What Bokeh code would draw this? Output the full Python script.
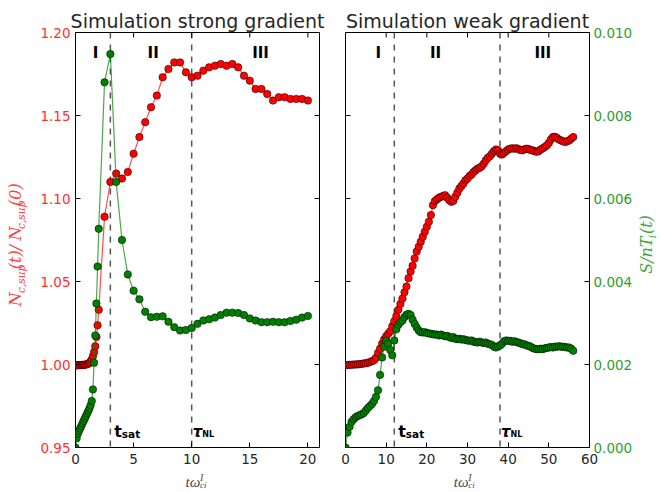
import math
from bokeh.plotting import figure
from bokeh.models import Range1d, LinearAxis, FixedTicker, Span, Label, PrintfTickFormatter
from bokeh.layouts import row, column
from bokeh.embed import file_html
from bokeh.resources import INLINE

# ---------------- data ----------------
t_strong = [0.0, 0.1, 0.2, 0.3, 0.4, 0.5, 0.6, 0.7, 0.8, 0.9,
            1.0, 1.1, 1.2, 1.3, 1.4, 1.5, 1.6, 1.7, 1.8, 1.9, 2.0,
            2.5, 3.0, 3.5, 4.0, 4.5, 5.0, 5.5, 6.0, 6.5, 7.0,
            7.5, 8.0, 8.5, 9.0, 9.5, 10.0, 10.5, 11.0, 11.5, 12.0,
            12.5, 13.0, 13.5, 14.0, 14.5, 15.0, 15.5, 16.0, 16.5, 17.0,
            17.5, 18.0, 18.5, 19.0, 19.5, 20.0]
n_strong = [0.9995, 0.9996, 0.9995, 0.9997, 0.9996, 0.9997, 0.9998, 0.9997, 0.9999, 1.0000,
            1.0002, 1.0005, 1.0010, 1.0018, 1.0030, 1.0050, 1.0075, 1.0110, 1.0166, 1.0236, 1.0330,
            1.089, 1.110, 1.115, 1.112, 1.116, 1.127, 1.137, 1.146, 1.155, 1.162,
            1.173, 1.178, 1.182, 1.182, 1.176, 1.173, 1.174, 1.177, 1.179, 1.180,
            1.181, 1.180, 1.181, 1.179, 1.174, 1.171, 1.166, 1.166, 1.163, 1.159,
            1.161, 1.161, 1.160, 1.160, 1.160, 1.159]
s_strong = [0.00000, 0.00022, 0.00033, 0.00040, 0.00046, 0.00052, 0.00058, 0.00064, 0.00070, 0.00076,
            0.00082, 0.00088, 0.00094, 0.00102, 0.00112, 0.00140, 0.00204, 0.00270, 0.00347, 0.00436, 0.00527,
            0.00880, 0.00948, 0.00640, 0.00500, 0.00417, 0.00378, 0.00357, 0.00327, 0.00314, 0.00315,
            0.00316, 0.00303, 0.00290, 0.00282, 0.00283, 0.00288, 0.00298, 0.00306, 0.00309, 0.00313,
            0.00319, 0.00325, 0.00325, 0.00324, 0.00319, 0.00311, 0.00306, 0.00302, 0.00302, 0.00303,
            0.00302, 0.00302, 0.00305, 0.00308, 0.00313, 0.00317]

t_weak = [0.0, 0.5, 1.0, 1.5, 2.0, 2.5, 3.0, 3.5, 4.0, 4.5,
          5.0, 5.5, 6.0, 6.5, 7.0, 7.5, 8.0, 8.5, 9.0, 9.5,
          10.0, 10.5, 11.0, 11.5, 12.0, 12.5, 13.0, 13.5, 14.0, 14.5,
          15.0, 15.5, 16.0, 16.5, 17.0, 17.5, 18.0, 18.5, 19.0, 19.5,
          20.0, 20.5, 21.0, 21.5, 22.0, 22.5, 23.0, 23.5, 24.0, 24.5,
          25.0, 25.5, 26.0, 26.5, 27.0, 27.5, 28.0, 28.5, 29.0, 29.5,
          30.0, 30.5, 31.0, 31.5, 32.0, 32.5, 33.0, 33.5, 34.0, 34.5,
          35.0, 35.5, 36.0, 36.5, 37.0, 37.5, 38.0, 38.5, 39.0, 39.5,
          40.0, 40.5, 41.0, 41.5, 42.0, 42.5, 43.0, 43.5, 44.0, 44.5,
          45.0, 45.5, 46.0, 46.5, 47.0, 47.5, 48.0, 48.5, 49.0, 49.5,
          50.0, 50.5, 51.0, 51.5, 52.0, 52.5, 53.0, 53.5, 54.0, 54.5,
          55.0, 55.5, 56.0]
n_weak = [0.9996, 0.9997, 0.9998, 0.9998, 1.0000, 1.0000, 1.0001, 1.0002, 1.0004, 1.0006,
          1.0008, 1.0010, 1.0015, 1.0020, 1.0026, 1.0040, 1.0070, 1.0095, 1.0125, 1.0150,
          1.0170, 1.0185, 1.0200, 1.0230, 1.0260, 1.0290, 1.0330, 1.0365, 1.0397, 1.0435,
          1.0470, 1.0520, 1.0560, 1.0595, 1.0639, 1.0680, 1.0710, 1.0740, 1.0770, 1.0800,
          1.0830, 1.0860, 1.0900, 1.0960, 1.0985, 1.0995, 1.1005, 1.1010, 1.1015, 1.1020,
          1.1005, 1.0990, 1.0980, 1.0985, 1.1010, 1.1035, 1.1060, 1.1075, 1.1090, 1.1110,
          1.1120, 1.1135, 1.1145, 1.1160, 1.1170, 1.1180, 1.1185, 1.1195, 1.1210, 1.1230,
          1.1245, 1.1255, 1.1270, 1.1285, 1.1295, 1.1290, 1.1270, 1.1265, 1.1275, 1.1285,
          1.1295, 1.1300, 1.1302, 1.1300, 1.1303, 1.1298, 1.1292, 1.1290, 1.1296, 1.1300,
          1.1298, 1.1292, 1.1290, 1.1285, 1.1282, 1.1285, 1.1295, 1.1302, 1.1310, 1.1320,
          1.1335, 1.1355, 1.1370, 1.1372, 1.1365, 1.1355, 1.1350, 1.1345, 1.1340, 1.1345,
          1.1350, 1.1360, 1.1370]
s_weak = [0.00000, 0.00036, 0.00050, 0.00062, 0.00068, 0.00073, 0.00076, 0.00078, 0.00080, 0.00083,
          0.00089, 0.00095, 0.00100, 0.00105, 0.00112, 0.00122, 0.00138, 0.00175, 0.00217, 0.00243,
          0.00257, 0.00250, 0.00235, 0.00222, 0.00258, 0.00285, 0.00296, 0.00302, 0.00306, 0.00314,
          0.00320, 0.00322, 0.00319, 0.00308, 0.00298, 0.00289, 0.00282, 0.00278, 0.00277, 0.00278,
          0.00276, 0.00275, 0.00274, 0.00273, 0.00272, 0.00272, 0.00270, 0.00272, 0.00270, 0.00268,
          0.00269, 0.00266, 0.00264, 0.00266, 0.00262, 0.00261, 0.00262, 0.00260, 0.00261, 0.00259,
          0.00258, 0.00257, 0.00258, 0.00255, 0.00254, 0.00253, 0.00255, 0.00253, 0.00252, 0.00253,
          0.00250, 0.00249, 0.00247, 0.00243, 0.00241, 0.00244, 0.00246, 0.00250, 0.00256, 0.00258,
          0.00257, 0.00257, 0.00255, 0.00256, 0.00254, 0.00253, 0.00251, 0.00249, 0.00249, 0.00246,
          0.00245, 0.00243, 0.00240, 0.00238, 0.00237, 0.00237, 0.00238, 0.00237, 0.00239, 0.00240,
          0.00241, 0.00242, 0.00241, 0.00243, 0.00243, 0.00244, 0.00243, 0.00243, 0.00242, 0.00241,
          0.00241, 0.00238, 0.00233]

titles = ["Simulation strong gradient", "Simulation weak gradient"]
x_ticks_strong = [0, 5, 10, 15, 20]
x_ticks_weak = [0, 10, 20, 30, 40, 50, 60]
n_ticks = [0.95, 1.00, 1.05, 1.10, 1.15, 1.20]
s_ticks = [0.000, 0.002, 0.004, 0.006, 0.008, 0.010]
phase_names = ["I", "II", "III"]
t_sat = [3.0, 12.0]
tau_nl = [10.0, 38.0]

# ---------------- layout constants (page pixels) ----------------
W, H = 661, 492
N_MIN, N_MAX = 0.95, 1.20
S_MIN, S_MAX = 0.0, 0.010
FRAME_W, FRAME_H = 244, 415
FRAME_TOP = 32
XLAB_H = 22
MID_H = H - XLAB_H          # 470
YLAB_W, YLAB2_W = 36, 23
P1_BL, P1_BR = 39, 13
P2_BL, P2_BR = 13, 49
TICK = 5
BASE_K = 0.35   # correction: rendered baseline sits ~0.35em below the anchor

RED = "#ff0000"
GREEN = "#008000"
RED_TXT = "#ff3030"
GREEN_TXT = "#2e9e2e"
DARK = "#262626"
MATH = "DejaVu Serif"


def fpx(size):
    return float(size.replace("px", ""))


def ny(py):
    return N_MAX - (py - FRAME_TOP) * (N_MAX - N_MIN) / FRAME_H


def style_axis(ax, color, fmt, standoff):
    ax.axis_line_color = None
    ax.major_tick_in = TICK
    ax.major_tick_out = 0
    ax.minor_tick_in = 0
    ax.minor_tick_out = 0
    ax.major_tick_line_color = "black"
    ax.major_tick_line_width = 1
    ax.formatter = PrintfTickFormatter(format=fmt)
    ax.major_label_text_font = "DejaVu Sans"
    ax.major_label_text_font_size = "13.5px"
    ax.major_label_text_color = color
    ax.major_label_standoff = standoff


def lab(p, x, y, text, size, color="black", font="DejaVu Sans", style="normal",
        align="left", angle=0.0, x_offset=0):
    p.add_layout(Label(x=x, y=y, text=text, text_font=font, text_font_size=size,
                       text_font_style=style, text_color=color, text_align=align,
                       text_baseline="alphabetic", angle=angle, x_offset=x_offset))


def text_fig(w, h):
    f = figure(width=w, height=h, x_range=Range1d(0, w), y_range=Range1d(0, h),
               output_backend="svg", toolbar_location=None, min_border=0,
               x_axis_location=None, y_axis_location=None,
               background_fill_color="white", border_fill_color="white")
    f.outline_line_color = None
    f.xgrid.visible = False
    f.ygrid.visible = False
    return f


def panel(t, n, s, xmax, xticks, title, tsat, taunl, left_ref, width, bl, br,
          phase_px, left_side):
    p = figure(width=width, height=MID_H, x_range=Range1d(0, xmax),
               y_range=Range1d(N_MIN, N_MAX), output_backend="svg",
               toolbar_location=None, min_border_left=bl, min_border_right=br,
               min_border_top=FRAME_TOP,
               min_border_bottom=MID_H - FRAME_TOP - FRAME_H,
               x_axis_location="below", y_axis_location="left" if left_side else None,
               background_fill_color="white", border_fill_color="white",
               title=title)
    p.title.text_font = "DejaVu Sans"
    p.title.text_font_size = "19px"
    p.title.text_font_style = "normal"
    p.title.text_color = DARK
    p.title.align = "center"
    p.title.standoff = 1
    p.extra_y_ranges = {"s": Range1d(S_MIN, S_MAX)}
    p.xgrid.visible = False
    p.ygrid.visible = False
    p.outline_line_color = "black"
    p.outline_line_width = 1

    tx = lambda px: (px - left_ref) * xmax / FRAME_W
    dy_tick = TICK * (N_MAX - N_MIN) / FRAME_H
    dx_tick = TICK * xmax / FRAME_W

    bx = p.xaxis[0]
    bx.ticker = FixedTicker(ticks=xticks)
    style_axis(bx, DARK, "%d", 6)
    p.segment(x0=xticks, x1=xticks, y0=[N_MAX] * len(xticks),
              y1=[N_MAX - dy_tick] * len(xticks), line_color="black", line_width=1)
    if left_side:
        ly = p.yaxis[0]
        ly.ticker = FixedTicker(ticks=n_ticks)
        style_axis(ly, RED_TXT, "%.2f", 5)
        p.segment(x0=[xmax - dx_tick] * len(s_ticks), x1=[xmax] * len(s_ticks),
                  y0=s_ticks, y1=s_ticks, y_range_name="s",
                  line_color="black", line_width=1)
    else:
        ry = LinearAxis(y_range_name="s", ticker=FixedTicker(ticks=s_ticks))
        style_axis(ry, GREEN_TXT, "%.3f", 4)
        p.add_layout(ry, "right")
        p.segment(x0=[0] * len(n_ticks), x1=[dx_tick] * len(n_ticks),
                  y0=n_ticks, y1=n_ticks, line_color="black", line_width=1)

    for loc in (tsat, taunl):
        p.add_layout(Span(location=loc, dimension="height", line_color="#555555",
                          line_dash="6 6", line_width=1.5, level="underlay"))

    p.line(t, n, line_color=RED, line_alpha=0.7, line_width=1.2)
    p.scatter(t, n, marker="circle", size=7.5, fill_color=RED,
              line_color="black", line_width=0.5)
    p.line(t, s, y_range_name="s", line_color=GREEN, line_alpha=0.7, line_width=1.2)
    p.scatter(t, s, y_range_name="s", marker="circle", size=7.5,
              fill_color=GREEN, line_color="black", line_width=0.5)

    def hl(x, py, text, size, **kw):
        lab(p, x, ny(py - BASE_K * fpx(size)), text, size, **kw)

    for name, px in zip(phase_names, phase_px):
        hl(tx(px), 58, name, "15px", style="bold", align="center")
    hl(tsat, 437, "t", "16px", style="bold", x_offset=4)
    hl(tsat, 437, "sat", "10.5px", style="bold", x_offset=11.5)
    hl(taunl, 436.5, "\u03c4", "15px", style="bold italic", x_offset=1)
    hl(taunl, 436.5, "NL", "8px", style="bold", x_offset=10.5)
    return p


LEFT1 = YLAB_W + P1_BL                      # 75
LEFT2 = YLAB_W + P1_BL + FRAME_W + P1_BR + P2_BL   # 345
W1 = P1_BL + FRAME_W + P1_BR
W2 = P2_BL + FRAME_W + P2_BR

p1 = panel(t_strong, n_strong, s_strong, 21, x_ticks_strong, titles[0], t_sat[0], tau_nl[0],
           LEFT1, W1, P1_BL, P1_BR, [95, 152.7, 260], True)
p2 = panel(t_weak, n_weak, s_weak, 60, x_ticks_weak, titles[1], t_sat[1], tau_nl[1],
           LEFT2, W2, P2_BL, P2_BR, [377.7, 435, 542.3], False)

# ---- left y label:  N_{c,sup}(t)/N_{c,sup}(0) ----
fl = text_fig(YLAB_W, MID_H)
ang = math.pi / 2
yl = lambda py: MID_H - py
MAIN_FS, SUB_FS = "16px", "10.5px"
parts_left = [("N", 310, False), ("c,sup", 295, True), ("(t)", 268, False),
              ("/", 247, False), ("N", 235.5, False), ("c,sup", 222.5, True),
              ("(0)", 196.5, False)]
for txt, py, sub in parts_left:
    fs = SUB_FS if sub else MAIN_FS
    bx = (24.5 if sub else 20.5) - BASE_K * fpx(fs)
    lab(fl, bx, yl(py), txt, fs, "#ff4040", font=MATH, style="italic", angle=ang)

# ---- right y label:  S/nT_i(t) ----
X2 = W - YLAB2_W
fr = text_fig(YLAB2_W, MID_H)
parts_right = [("S/nT", 273.3, False), ("i", 233, True), ("(t)", 228.3, False)]
for txt, py, sub in parts_right:
    fs = SUB_FS if sub else MAIN_FS
    bx = (655 if sub else 652) - X2 - BASE_K * fpx(fs)
    lab(fr, bx, yl(py), txt, fs, "#3fa63f", font=MATH, style="italic", angle=ang)

# ---- x labels row:  t omega_ci^I ----
fx = text_fig(W, XLAB_H)
xl = lambda py, fs: XLAB_H - (py - BASE_K * fs - (H - XLAB_H))
for start in (185, 453.3):
    lab(fx, start, xl(486.5, 15), "t\u03c9", "15px", "#4a4a4a",
        font="Liberation Serif", style="italic")
    lab(fx, start + 14.5, xl(480.5, 10), "I", "10px", "#4a4a4a",
        font="Liberation Serif", style="italic")
    lab(fx, start + 14.5, xl(488, 9), "ci", "9px", "#4a4a4a",
        font="Liberation Serif", style="italic")

layout = column(row(fl, p1, p2, fr), fx)
open("out.html", "w").write(file_html(layout, INLINE))
